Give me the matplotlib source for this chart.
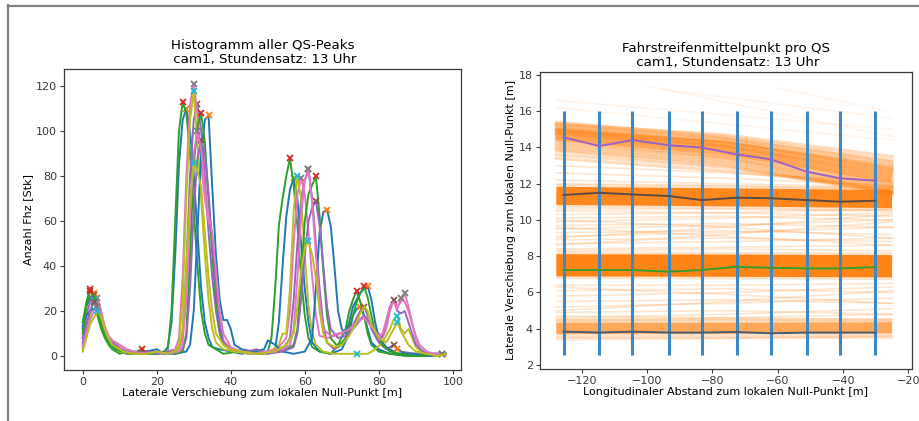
import numpy as np
import matplotlib
matplotlib.use("Agg")
import matplotlib.pyplot as plt
from matplotlib.lines import Line2D

# ---------------- data: left panel (histograms per QS) ----------------
qs0 = [(0,13),(1,22),(2,26),(3,28),(4,22),(5,15),(6,10),(7,6),(8,4),(9,3),(10,2),(12,1),(14,2),(16,1),(18,2),(20,1),(22,2),(23,4),(24,15),(25,45),(26,85),(27,105),(28,110),(29,100),(30,80),(31,55),(32,30),(33,15),(34,8),(35,4),(37,3),(40,2),(43,1),(46,2),(50,1),(52,3),(53,15),(54,40),(55,62),(56,74),(57,79),(58,70),(59,50),(60,30),(61,15),(62,6),(64,2),(67,1),(70,3),(72,10),(73,18),(74,21),(75,22),(76,18),(77,12),(78,6),(80,3),(83,1),(88,0),(93,1),(98,1)]
qs1 = [(0,15),(1,24),(2,30),(3,26),(4,18),(5,12),(6,8),(7,5),(8,3),(9,2),(10,1),(12,2),(14,1),(16,1),(18,1),(20,2),(22,1),(23,3),(24,20),(25,60),(26,100),(27,113),(28,108),(29,90),(30,65),(31,40),(32,20),(33,10),(34,5),(36,3),(38,1),(42,2),(45,1),(48,2),(50,2),(51,8),(52,30),(53,58),(54,70),(55,80),(56,88),(57,76),(58,58),(59,35),(60,18),(61,8),(62,4),(64,2),(67,1),(69,5),(71,12),(72,20),(73,25),(74,29),(75,24),(76,18),(77,10),(78,5),(80,2),(83,1),(88,0),(93,0),(98,1)]
qs2 = [(0,8),(1,18),(2,24),(3,27),(4,24),(5,17),(6,10),(7,7),(8,5),(9,4),(10,2),(12,1),(14,1),(17,2),(20,1),(23,2),(26,3),(27,10),(28,40),(29,80),(30,105),(31,112),(32,100),(33,80),(34,55),(35,35),(36,20),(37,10),(38,5),(40,3),(43,2),(46,1),(50,2),(54,3),(56,8),(57,25),(58,50),(59,70),(60,78),(61,83),(62,70),(63,50),(64,30),(65,14),(66,6),(68,3),(70,5),(72,10),(74,17),(75,20),(76,22),(77,18),(78,12),(80,6),(82,3),(84,5),(86,2),(90,1),(95,1),(98,1)]
qs3 = [(0,5),(1,12),(2,20),(3,24),(4,26),(5,20),(6,12),(7,8),(8,6),(9,6),(10,4),(12,2),(14,1),(16,2),(19,1),(22,2),(25,3),(26,8),(27,35),(28,80),(29,112),(30,121),(31,108),(32,85),(33,70),(34,60),(35,52),(36,30),(37,15),(38,7),(40,3),(43,2),(47,1),(50,2),(53,4),(55,8),(56,20),(57,50),(58,72),(59,79),(60,72),(61,55),(62,35),(63,18),(64,9),(66,8),(68,9),(70,10),(72,12),(74,15),(76,18),(77,17),(79,12),(81,8),(82,12),(83,20),(84,25),(85,22),(86,24),(87,28),(88,22),(89,15),(90,8),(91,3),(93,1),(96,1),(98,1)]
qs4 = [(0,3),(1,10),(2,18),(3,25),(4,22),(5,16),(6,10),(7,6),(8,4),(10,2),(13,1),(16,1),(19,2),(22,1),(25,2),(26,5),(27,25),(28,70),(29,105),(30,118),(31,95),(32,70),(33,45),(34,25),(35,12),(36,6),(38,3),(41,2),(45,1),(50,1),(53,5),(54,10),(55,10),(56,30),(57,65),(58,80),(59,70),(60,45),(61,22),(62,10),(63,5),(65,2),(68,1),(71,1),(74,1),(77,1),(79,3),(81,6),(83,12),(84,16),(85,18),(86,12),(87,10),(88,12),(89,8),(90,4),(92,1),(95,0),(98,1)]
qs5 = [(0,12),(1,18),(2,20),(3,21),(4,22),(5,18),(6,12),(7,8),(8,5),(9,3),(11,2),(14,1),(17,2),(20,3),(22,1),(25,1),(28,2),(29,5),(30,20),(31,55),(32,90),(33,105),(34,107),(35,75),(36,45),(37,25),(38,16),(39,16),(40,12),(41,5),(43,3),(46,2),(49,3),(50,7),(51,6),(52,5),(54,2),(57,1),(60,2),(62,8),(63,30),(64,55),(65,64),(66,65),(67,58),(68,40),(69,20),(70,12),(71,10),(72,15),(73,22),(74,25),(75,28),(76,30),(77,31),(78,25),(79,15),(80,8),(82,4),(84,2),(85,3),(87,1),(90,1),(94,0),(98,1)]
qs6 = [(0,10),(1,22),(2,29),(3,27),(4,20),(5,14),(6,9),(7,6),(8,4),(9,3),(11,2),(13,1),(16,3),(18,1),(20,1),(22,2),(25,1),(27,2),(28,10),(29,45),(30,85),(31,102),(32,108),(33,95),(34,70),(35,45),(36,25),(37,12),(38,5),(40,3),(44,2),(48,1),(52,2),(55,3),(57,5),(58,12),(59,35),(60,60),(61,72),(62,76),(63,80),(64,62),(65,38),(66,18),(67,8),(69,4),(71,8),(73,18),(74,24),(75,28),(76,31),(77,26),(78,18),(79,10),(81,5),(83,2),(86,1),(90,0),(95,1),(98,1)]
qs7 = [(0,6),(1,14),(2,20),(3,24),(4,23),(5,18),(6,12),(7,8),(8,6),(9,5),(10,3),(12,2),(15,1),(18,2),(21,1),(24,2),(27,3),(28,8),(29,30),(30,65),(31,88),(32,96),(33,90),(34,72),(35,50),(36,30),(37,14),(38,6),(40,3),(44,2),(47,3),(50,1),(54,2),(57,4),(58,10),(59,25),(60,45),(61,60),(62,66),(63,69),(64,58),(65,40),(66,22),(67,12),(69,8),(71,9),(73,12),(75,16),(76,18),(77,16),(79,10),(80,7),(81,9),(82,15),(83,22),(84,25),(85,20),(86,19),(87,20),(88,15),(89,10),(90,5),(92,2),(94,1),(97,1),(98,1)]
qs8 = [(0,4),(1,10),(2,16),(3,20),(4,22),(5,19),(6,13),(7,9),(8,7),(9,6),(10,5),(12,3),(14,2),(17,1),(20,2),(23,1),(26,2),(27,6),(28,25),(29,62),(30,90),(31,100),(32,92),(33,75),(34,62),(35,55),(36,38),(37,20),(38,10),(40,4),(43,2),(46,1),(50,2),(54,3),(56,5),(57,12),(58,35),(59,62),(60,78),(61,83),(62,68),(63,45),(64,25),(65,12),(67,9),(69,10),(71,11),(73,13),(75,16),(76,17),(78,13),(80,9),(81,10),(82,16),(83,22),(84,24),(85,21),(86,26),(87,24),(88,20),(89,14),(90,9),(91,5),(93,2),(95,1),(97,1),(98,0)]
qs9 = [(0,2),(1,8),(2,14),(3,17),(4,20),(5,17),(6,12),(7,8),(8,5),(9,4),(11,2),(14,1),(17,1),(20,2),(23,1),(26,3),(27,12),(28,40),(29,70),(30,86),(31,82),(32,75),(33,55),(34,35),(35,20),(36,10),(38,5),(40,3),(43,2),(47,1),(52,2),(55,5),(57,10),(58,22),(59,38),(60,48),(61,51),(62,45),(63,35),(64,20),(65,10),(66,6),(68,4),(70,5),(72,9),(74,15),(75,19),(76,22),(77,20),(78,14),(80,8),(82,6),(84,12),(85,15),(86,11),(87,8),(88,5),(90,2),(93,1),(96,0),(98,1)]
hist_series = [qs0, qs1, qs2, qs3, qs4, qs5, qs6, qs7, qs8, qs9]
# peak positions (x of marked peaks) per series
peaks = [
    [3, 28, 57, 75],
    [2, 27, 56, 74],
    [3, 31, 61, 76, 84],
    [4, 30, 59, 87],
    [3, 30, 58, 74, 85],
    [4, 34, 66, 77, 85],
    [2, 16, 32, 63, 76],
    [3, 32, 63, 84, 97],
    [4, 31, 61, 86, 97],
    [4, 30, 61, 85],
]

# ---------------- data: right panel (lane centres per QS) ----------------
qs_x = [-125.6, -114.6, -104.5, -93.3, -83.3, -72.6, -62.2, -51.2, -41.0, -30.1]
lane1 = [3.84, 3.79, 3.84, 3.79, 3.79, 3.82, 3.75, 3.79, 3.79, 3.79]
lane2 = [7.24, 7.24, 7.24, 7.15, 7.24, 7.42, 7.36, 7.33, 7.33, 7.40]
lane3 = [11.38, 11.50, 11.41, 11.32, 11.10, 11.23, 11.20, 11.10, 11.01, 11.06]
lane4 = [14.56, 14.08, 14.41, 14.12, 14.00, 13.62, 13.35, 12.67, 12.30, 12.17]
qs_ymin, qs_ymax = 2.55, 16.0

traj_x = [-127.8, -76.0, -25.0]
# dense lane bands (y at traj_x)
band_lane2 = [7.50, 7.48, 7.45]
band_lane3 = [11.33, 11.25, 11.15]
band_lane1 = [4.02, 4.03, 4.05]
band_lane4 = [14.75, 13.95, 12.45]
# individual trajectories of the upper lane (y at traj_x)
traj_top = [(15.4,14.6,13.3),(15.3,14.5,13.1),(15.2,14.4,12.9),(15.1,14.3,12.8),(15.0,14.2,12.7),
            (14.95,14.1,12.5),(14.9,14.05,12.4),(14.8,14.0,12.3),(14.75,13.9,12.2),(14.7,13.85,12.1),
            (14.6,13.8,12.0),(14.55,13.7,11.95),(14.5,13.6,11.85),(14.4,13.5,11.8),(14.3,13.45,11.7),
            (14.2,13.4,11.6),(14.1,13.3,11.55),(14.0,13.2,11.5),(13.9,13.1,11.45),(13.8,13.0,11.4),
            (13.6,12.9,11.6),(13.4,12.7,11.8),(15.3,14.7,13.5),(14.9,14.3,13.0),(15.2,14.5,13.2),
            (15.0,14.3,12.9),(14.8,14.1,12.6)]
# scattered trajectories between the lanes (y at traj_x)
traj_mid = [(8.4,8.5,8.6),(8.7,8.8,9.0),(8.9,9.0,8.8),(9.1,9.3,9.6),(9.3,9.4,9.2),(9.5,9.7,10.0),
            (9.7,9.8,9.6),(9.9,10.1,10.4),(10.1,10.2,10.0),(10.3,10.4,10.6),(10.5,10.4,10.2),
            (9.0,9.6,10.3),(8.6,9.2,9.9),(10.0,9.6,9.0),(9.6,9.1,8.6),(8.3,8.4,8.3),(10.6,10.6,10.5),
            (4.6,4.8,5.1),(4.9,5.0,4.8),(5.2,5.4,5.7),(5.5,5.6,5.4),(5.8,6.0,6.3),(6.1,6.2,6.0),
            (6.4,6.4,6.5),(5.0,5.5,6.1),(6.3,5.9,5.4),(4.7,4.6,4.5),(4.5,4.6,4.8),(4.4,4.5,4.4),
            (12.2,12.0,11.8),(12.6,12.3,11.9),(13.0,12.6,12.1),(12.0,11.9,11.7),(3.5,3.5,3.6),(3.4,3.45,3.5)]
# very faint high trajectories: (x0, y0, x1, y1)
traj_faint = [(-127.5,16.6,-25.0,15.0),(-100.0,17.4,-25.0,14.6),(-95.0,17.2,-25.0,15.6),
              (-127.5,16.2,-25.0,14.4),(-60.0,17.3,-27.0,16.0)]

# ---------------- figure ----------------
W, H = 919, 421
fig = plt.figure(figsize=(W/100, H/100), dpi=100)
FS = 8
TFS = 9.6
spine_c = '#3a3a3a'

axL = fig.add_axes([64/W, 1-370/H, (461-64)/W, (370-69)/H])
axR = fig.add_axes([540/W, 1-369/H, (911.7-540)/W, (369-71.7)/H])

for i, s in enumerate(hist_series):
    xs = np.array([p[0] for p in s], float)
    ys = np.array([p[1] for p in s], float)
    lc = f'C{(2*i) % 10}'
    mc = f'C{(2*i+1) % 10}'
    axL.plot(xs, ys, color=lc, lw=1.4)
    idx = [int(np.where(xs == px)[0][0]) for px in peaks[i]]
    axL.plot(xs[idx], ys[idx], 'x', color=mc, ms=5, mew=1.3)

axL.set_xlim(-5.05, 102.2)
axL.set_ylim(-6.2, 127.6)
axL.set_xticks([0, 20, 40, 60, 80, 100])
axL.set_yticks([0, 20, 40, 60, 80, 100, 120])
axL.set_title('Histogramm aller QS-Peaks\n cam1, Stundensatz: 13 Uhr', fontsize=TFS, pad=4, linespacing=1.1)
axL.set_xlabel('Laterale Verschiebung zum lokalen Null-Punkt [m]', fontsize=FS, labelpad=1)
axL.set_ylabel('Anzahl Fhz [Stk]', fontsize=FS, labelpad=2)

# right panel
orange = '#ff7f0e'
for (x0, y0, x1, y1) in traj_faint:
    axR.plot([x0, x1], [y0, y1], color=orange, alpha=0.08, lw=1.2, zorder=1)
for t in traj_mid:
    axR.plot(traj_x, t, color=orange, alpha=0.2, lw=1.2, zorder=1)
axR.plot(traj_x, band_lane4, color=orange, alpha=0.4, lw=10, solid_capstyle='butt', zorder=1)
for t in traj_top:
    axR.plot(traj_x, t, color=orange, alpha=0.28, lw=2.2, zorder=1)
axR.plot(traj_x, band_lane1, color=orange, alpha=0.22, lw=14, solid_capstyle='butt', zorder=1)
axR.plot(traj_x, band_lane1, color=orange, alpha=0.6, lw=8, solid_capstyle='butt', zorder=1)
axR.plot(traj_x, band_lane3, color=orange, alpha=0.22, lw=17, solid_capstyle='butt', zorder=1)
axR.plot(traj_x, band_lane3, color=orange, alpha=0.92, lw=13, solid_capstyle='butt', zorder=1)
axR.plot(traj_x, band_lane2, color=orange, alpha=0.22, lw=20, solid_capstyle='butt', zorder=1)
axR.plot(traj_x, band_lane2, color=orange, alpha=0.95, lw=16, solid_capstyle='butt', zorder=1)

axR.vlines(qs_x, qs_ymin, qs_ymax, color='#3b88c6', lw=2.2, zorder=2)

axR.plot(qs_x, lane1, color='#4a5c70', lw=1.4, zorder=3)
axR.plot(qs_x, lane2, color='#3c9a2a', lw=1.4, zorder=3)
axR.plot(qs_x, lane3, color='#5e4a44', lw=1.4, zorder=3)
axR.plot(qs_x, lane4, color='#9a62c4', lw=1.4, zorder=3)

axR.set_xlim(-132.8, -19.0)
axR.set_ylim(1.78, 18.18)
axR.set_xticks([-120, -100, -80, -60, -40, -20])
axR.set_yticks([2, 4, 6, 8, 10, 12, 14, 16, 18])
axR.set_title('Fahrstreifenmittelpunkt pro QS\n cam1, Stundensatz: 13 Uhr', fontsize=TFS, pad=4, linespacing=1.1)
axR.set_xlabel('Longitudinaler Abstand zum lokalen Null-Punkt [m]', fontsize=FS, labelpad=1)
axR.set_ylabel('Laterale Verschiebung zum lokalen Null-Punkt [m]', fontsize=FS, labelpad=2)

for ax in (axL, axR):
    ax.tick_params(labelsize=FS, length=3, width=0.8, colors=spine_c, pad=2)
    for sp in ax.spines.values():
        sp.set_color(spine_c)
        sp.set_linewidth(0.9)

# outer frame lines of the scanned figure
fig.add_artist(Line2D([8/W, 8/W], [0, 1-5/H], transform=fig.transFigure, color='#808080', lw=1.6))
fig.add_artist(Line2D([8/W, 1], [1-5.5/H, 1-5.5/H], transform=fig.transFigure, color='#808080', lw=1.6))

fig.savefig('out.png', dpi=100)
